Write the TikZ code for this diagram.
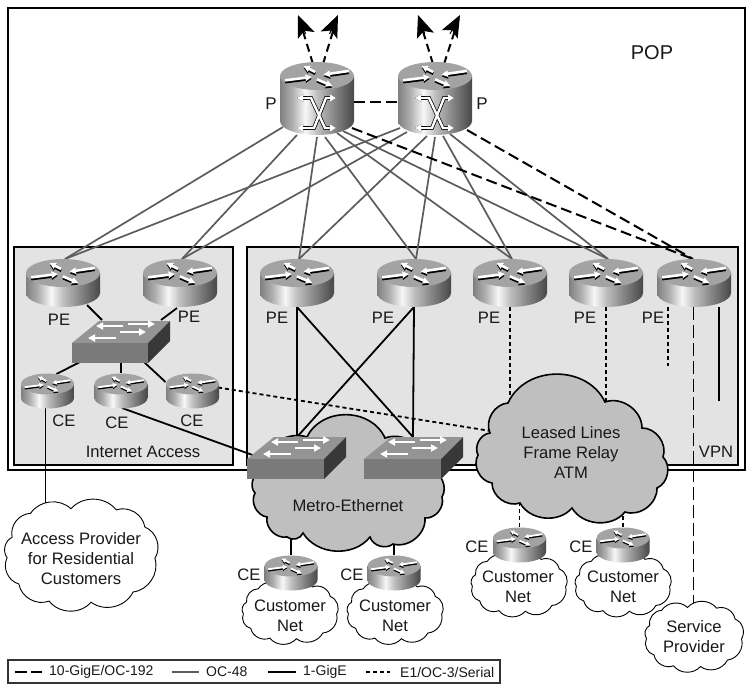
\documentclass[tikz,border=0pt]{standalone}
\usepackage{fontspec}
\setmainfont{Liberation Sans}
\usetikzlibrary{arrows.meta,calc}
\pgfdeclarehorizontalshading{cylbody}{100bp}{color(0bp)=(black!50);color(25bp)=(black!50);color(33bp)=(black!32);color(42bp)=(black!3);color(50bp)=(black!25);color(62bp)=(black!48);color(75bp)=(black!72);color(100bp)=(black!72)}
\tikzset{
  frame/.style={draw=black,line width=1.7pt},
  box/.style={draw=black,line width=1.7pt,fill=black!11},
  hit/.style={inner sep=0pt,outer sep=0pt,minimum width=#1},
  txt/.style={font=\fontsize{16.6}{20}\selectfont,align=center,inner sep=0pt,text=black!90},
  legtxt/.style={font=\fontsize{14}{16}\selectfont,inner sep=0pt,anchor=west,text=black!90},
  oc/.style={draw=black!64,line width=1.7pt},
  gige/.style={draw=black,line width=1.8pt},
  ten/.style={draw=black,line width=2pt,dash pattern=on 11pt off 5pt},
  teno/.style={draw=black,line width=1.7pt,dash pattern=on 13pt off 5pt},
  eone/.style={draw=black,line width=1.8pt,dash pattern=on 4pt off 3pt},
  bigcloud/.style={draw=black,line width=1.6pt,fill=black!25},
  smallcloud/.style={draw=black,line width=.9pt,fill=white},
  bl/.style={bend left=50},
  up/.style={draw=black,line width=2pt,dash pattern=on 8pt off 5pt},
  head/.style={-{Stealth[length=22pt,width=18pt,inset=5pt]}},
}
\newcommand\routerbody[6]{%
  \pgfmathsetmacro\lw{#4*0.07}\pgfmathsetmacro\al{#4*0.17}\pgfmathsetmacro\aw{#4*0.17}%
  \shade[shading=cylbody] (#2-#4,#3) -- (#2-#4,#6) arc[start angle=180,end angle=0,x radius=#4,y radius=#5] -- (#2+#4,#3) -- cycle;
  \fill[black!36] (#2,#3) ellipse[x radius=#4,y radius=#5];
  \begin{scope}[shift={(#2,#3)},x=#4pt,y=-#5pt]
    \foreach \c/\s in {black/0.13,white/0}{
      \begin{scope}[yshift=-\s*#5 pt]
      \draw[\c,line width=\lw pt,-{Triangle[length=\al pt,width=\aw pt]}] (-.86,.31) -- (-.14,.07);
      \draw[\c,line width=\lw pt,-{Triangle[length=\al pt,width=\aw pt]}] (0,.24) -- (.41,.71);
      \draw[\c,line width=\lw pt,-{Triangle[length=\al pt,width=\aw pt]}] (-.05,-.29) -- (-.36,-.71);
      \draw[\c,line width=\lw pt,-{Triangle[length=\al pt,width=\aw pt]}] (.86,-.36) -- (.18,-.10);
      \end{scope}
    }
  \end{scope}
  \node[hit=2*#4 pt,minimum height={#6-#3+2*#5}] (#1) at (#2,{(#3+#6)/2}) {};
}
\newcommand\switchbody[4]{%
  \fill[black!42] (#2,#3) -- ++(27,-22) -- (#2+#4+22,#3-22) -- (#2+#4,#3) -- cycle;
  \fill[black!52] (#2,#3) rectangle (#2+#4,#3+20);
  \fill[black!78] (#2+#4,#3) -- (#2+#4+22,#3-22) -- (#2+#4+22,#3-2) -- (#2+#4,#3+20) -- cycle;
  \foreach \xa/\ya/\xb/\yb in {51/-17/24/-17,56/-19/83/-19,44/-5/16/-5,48/-11/74/-11}{
    \draw[white,line width=2.6pt,-{Triangle[length=7pt,width=7pt]}] (#2+\xa,#3+\ya) -- (#2+\xb,#3+\yb);
  }
  \node[hit={(#4+22)*1pt},minimum height=42] (#1) at (#2+#4/2+11,#3-1) {};
}
\newcommand\smallcl[4]{%
  \path[smallcloud] (#1+#3*-.82,#2+#4*-.32) to[bl] (#1+#3*-.60,#2+#4*-.74) to[bl] (#1+#3*-.12,#2+#4*-.82) to[bl] (#1+#3*.42,#2+#4*-.80) to[bl] (#1+#3*.76,#2+#4*-.50) to[bl] (#1+#3*.88,#2+#4*.05) to[bl] (#1+#3*.62,#2+#4*.64) to[bl] (#1+#3*.12,#2+#4*.82) to[bl] (#1+#3*-.38,#2+#4*.80) to[bl] (#1+#3*-.74,#2+#4*.50) to[bl] (#1+#3*-.88,#2+#4*.04) to[bl] cycle;
}
\begin{document}
\begin{tikzpicture}[x=1pt,y=-1pt]
\useasboundingbox (0,0) rectangle (750,688);
\path[frame] (8,8) rectangle (745,470);
\path[box] (14,247) rectangle (233,465);
\path[box] (247,247) rectangle (738,465);
\path[frame,line width=1.2pt,draw=black!80] (8,660) rectangle (500,683);
\foreach \n/\x/\y/\w/\h in {p1/317/98.5/74/73,p2/435/98.5/74/73,pe1/63/283/74/48,pe2/180/283/74/48,pe3/297/283/74/48,pe4/414/283/74/48,pe5/510/283/74/48,pe6/606/283/74/48,pe7/694/283/74/48,ce1/47.5/390.5/53/35,ce2/121/390.5/53/35,ce3/192.5/390.5/53/35,ce4/291/572.5/53/35,ce5/394/572.5/53/35,ce6/519.5/544.5/53/35,ce7/623/544.5/53/35}{
  \node[hit=\w pt,minimum height=\h] (\n) at (\x,\y) {};
}
\node[hit=98pt,minimum height=42] (swa) at (121,341) {};
\node[hit=99pt,minimum height=42] (swb) at (296,458) {};
\node[hit=99pt,minimum height=42] (swc) at (413,458) {};
\coordinate (t1) at (298,15);\coordinate (t2) at (338,15);\coordinate (t3) at (418,15);\coordinate (t4) at (460,15);
\coordinate (leasedpt) at (571,452);
\coordinate (leasedleft) at (497,432);
\coordinate (metropt) at (348,506);
\coordinate (accesstop) at (45.5,526);
\coordinate (servicetop) at (693.5,620);
\coordinate (e7a) at (668,366);\coordinate (e7b) at (719,401);
% uplinks
\draw[up] ($(p1.north)+(-4,2)$) -- (t1);
\draw[up] ($(p1.north)+(6,2)$) -- (t2);
\draw[up] ($(p2.north)+(-2,2)$) -- (t3);
\draw[up] ($(p2.north)+(9,2)$) -- (t4);
\path[head,fill=black,draw=black,line width=1pt] ($(t1)!.4!(p1.north)$) -- (t1);
\path[head,fill=black,draw=black,line width=1pt] ($(t2)!.4!(p1.north)$) -- (t2);
\path[head,fill=black,draw=black,line width=1pt] ($(t3)!.4!(p2.north)$) -- (t3);
\path[head,fill=black,draw=black,line width=1pt] ($(t4)!.4!(p2.north)$) -- (t4);
% P to PE
\foreach \d/\e/\t in {-34/-8/pe1,-20/0/pe2,0/2/pe3,8/2/pe4,20/-2/pe5,26/-4/pe6}{
  \path[oc] ($(p1.south)+(\d,\e)$) -- ($(\t.north)+(2,0)$);
}
\foreach \d/\e/\t in {-35/-7/pe1,-28/-3/pe2,-8/1/pe3,0/2/pe4,8/1/pe5,15/-1/pe6}{
  \path[oc] ($(p2.south)+(\d,\e)$) -- ($(\t.north)+(2,0)$);
}
\path[ten] ($(p1.south)+(35,-7)$) -- ($(pe7.north)+(-1,0)$);
\path[ten] ($(p2.south)+(32,-5)$) -- ($(pe7.north)+(-1,0)$);
\path[ten] ($(p1.east)+(0,3)$) -- ($(p2.west)+(0,3)$);
% PE to switches
\path[gige] (pe3.south) -- ($(swb.north)+(1,0)$);
\path[gige] (pe3.south) -- ($(swc.north)+(0,0)$);
\path[gige] (pe4.south) -- ($(swb.north)+(1,0)$);
\path[gige] (pe4.south) -- ($(swc.north)+(0,0)$);
\path[gige] ($(pe1.south)+(24,-2)$) -- ($(swa.north)+(-19,0)$);
\path[gige] ($(pe2.south)+(-3,1)$) -- ($(swa.north)+(40,0)$);
\path[gige] ($(swa.south)+(-41,0)$) -- ($(ce1.north)+(9,1)$);
\path[gige] (swa.south) -- (ce2.north);
\path[gige] ($(swa.south)+(23,0)$) -- ($(ce3.north)+(-27,9)$);
\path[gige] ($(ce1.south)+(-2,-1)$) -- (accesstop);
\path[gige] ($(ce2.south)+(1,0)$) -- ($(swb.west)+(6,-3)$);
\path[gige] (ce4.north) -- (ce4 |- metropt);
\path[gige] (ce5.north) -- (ce5 |- metropt);
\path[gige] (pe7.south -| e7b) -- (e7b);
% dotted
\path[eone] ($(ce3.east)+(-1,-3)$) -- (leasedleft);
\path[eone] (pe5.south) -- (pe5 |- leasedpt);
\path[eone] (pe6.south) -- (pe6 |- leasedpt);
\path[eone] (pe7.south -| e7a) -- (e7a);
\path[eone] (ce6.north) -- (ce6 |- leasedpt);
\path[eone] (ce7.north) -- (ce7 |- leasedpt);
\path[teno] ($(pe7.south)+(-.5,0)$) -- (servicetop);
% clouds
\path[bigcloud] (260,472) to[bend left=55] (307,437) to[bend left=65,looseness=1.1] (385,438) to[bend left=55] (430,470) to[bend left=55] (442,497) to[bend left=55] (425,518) to[bend left=55] (393,544) to[bend left=55] (370,537) to[bend left=55] (303,533) to[bend left=55] (287,537) to[bend left=55] (267,517) to[bend left=55] (255,493) to[bend left=55] cycle;
\path[bigcloud] (490,433) to[bend left=55] (508,403) to[bend left=65,looseness=1.1] (605,402) to[bend left=55] (642,428) to[bend left=55] (663,457) to[bend left=55] (657,488) to[bend left=55] (625,512) to[bend left=55] (572,508) to[bend left=55] (520,503) to[bend left=55] (492,483) to[bend left=55] (478,455) to[bend left=55] cycle;
\smallcl{290}{612.5}{53}{32}
\smallcl{395}{612.5}{53}{32}
\smallcl{519}{585}{53}{32}
\smallcl{623}{585}{53}{32}
\smallcl{81}{555.5}{84}{57}
\smallcl{694}{637}{54}{36}
% devices
\routerbody{p1}{317}{76}{37}{14}{121}
\routerbody{p2}{435}{76}{37}{14}{121}
\foreach \c in {317,435}{
  \begin{scope}[shift={(\c,76)}]
    \foreach \k/\w in {black/3.8,white/2.4}{
      \draw[\k,line width=\w pt,-{Triangle[length=6pt,width=7pt]}] (-8,52) -- (-20,52);
      \draw[\k,line width=\w pt,-{Triangle[length=6pt,width=7pt]}] (-10,22) -- (-20,22);
      \draw[\k,line width=\w pt,-{Triangle[length=6pt,width=7pt]}] (-10,22) -- (-6,22) -- (8,52) -- (19,52);
      \draw[\k,line width=\w pt,-{Triangle[length=6pt,width=7pt]}] (-8,52) -- (-3,52) -- (9,22) -- (19,22);
    }
  \end{scope}
}
\foreach \n/\x in {pe1/63,pe2/180,pe3/297,pe4/414,pe5/510,pe6/606,pe7/694}{
  \routerbody{\n}{\x}{273}{37}{14}{293}
}
\foreach \n/\x/\y in {ce1/47.5/384,ce2/121/384,ce3/192.5/384,ce4/291/566,ce5/394/566,ce6/519.5/538,ce7/623/538}{
  \routerbody{\n}{\x}{\y}{26.5}{10.5}{\y+14}
}
\switchbody{swa}{72}{343}{76}
\switchbody{swb}{247}{459}{77}
\switchbody{swc}{364}{459}{77}
% labels
\node[txt,font=\fontsize{20}{24}\selectfont] (pop) at (652,53) {POP};
\node[txt,font=\fontsize{17}{20}\selectfont] (lp1) at (271,104) {P};
\node[txt,font=\fontsize{17}{20}\selectfont] (lp2) at (482,104) {P};
\foreach \n/\x/\y/\t in {a/59/320/PE,b/189/317/PE,c/277/318/PE,d/383/318/PE,e/489/318/PE,f/585/318/PE,g/653/318/PE,h/64/421/CE,i/117/423/CE,j/192/421/CE,k/249/575/CE,l/352/575/CE,m/477/547/CE,n/581/547/CE,o/716/452/VPN}{
  \node[txt] (lab\n) at (\x,\y) {\t};
}
\node[txt] (inet) at (143,452) {Internet Access};
\node[txt] (leased) at (leasedpt) {Leased Lines\\Frame Relay\\ATM};
\node[txt] (metro) at (metropt) {Metro-Ethernet};
\node[txt] (access) at (81,559) {Access Provider\\for Residential\\Customers};
\node[txt] (service) at (694,637) {Service\\Provider};
\node[txt] (cn1) at (290,615.5) {Customer\\Net};
\node[txt] (cn2) at (395,615.5) {Customer\\Net};
\node[txt] (cn3) at (518,587) {Customer\\Net};
\node[txt] (cn4) at (623,587) {Customer\\Net};
% legend
\node[legtxt] (l1) at (49,672) {10-GigE/OC-192};
\node[legtxt] (l2) at (206,672) {OC-48};
\node[legtxt] (l3) at (303,672) {1-GigE};
\node[legtxt] (l4) at (400,672) {E1/OC-3/Serial};
\coordinate (k1) at (15,672);\coordinate (k2) at (172,672);\coordinate (k3) at (268,672);\coordinate (k4) at (366,672);
\path[ten,dash pattern=on 12pt off 4pt] (k1) -- ($(l1.west)+(-7,0)$);
\path[oc,line width=1.1pt] (k2) -- ($(l2.west)+(-7,0)$);
\path[gige] (k3) -- ($(l3.west)+(-7,0)$);
\path[eone] (k4) -- ($(l4.west)+(-10,0)$);
\end{tikzpicture}
\end{document}
